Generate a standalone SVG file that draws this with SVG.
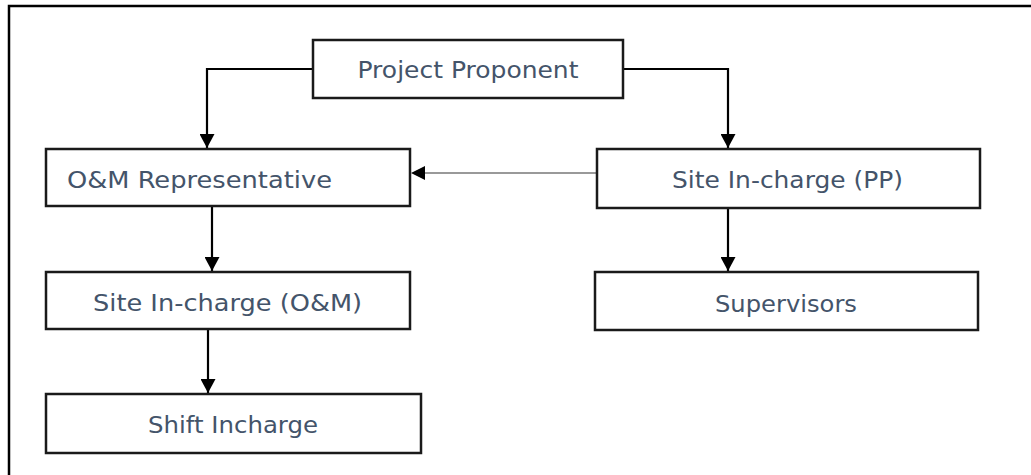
<svg xmlns="http://www.w3.org/2000/svg" width="1031" height="475" viewBox="0 0 1031 475">
<defs>
<marker id="arr" markerUnits="userSpaceOnUse" markerWidth="15" markerHeight="15" viewBox="0 0 15 15" refX="14" refY="7.5" orient="auto">
<path d="M0,0 L14,7.5 L0,15 Z" fill="#000"/>
</marker>
<style>
.box{fill:#fff;stroke:#1a1a1a;stroke-width:2.5}
.lbl{font-family:"DejaVu Sans","Liberation Sans",sans-serif;font-size:23px;fill:#44546A;text-anchor:middle}
.con{fill:none;stroke:#000;stroke-width:2.2}
.thin{fill:none;stroke:#777;stroke-width:1.5}
</style>
</defs>
<rect width="1031" height="475" fill="#fff"/>
<path d="M9,475 V6 H1031" fill="none" stroke="#000" stroke-width="2.5"/>
<g id="connectors">
<path class="con" d="M313,69 H207 V148" marker-end="url(#arr)"/>
<path class="con" d="M623,69 H728 V148" marker-end="url(#arr)"/>
<path class="thin" d="M597,173 H424"/>
<path d="M411,173 L425,166 L425,180 Z" fill="#000"/>
<path class="con" d="M212,206 V271" marker-end="url(#arr)"/>
<path class="con" d="M728,208 V271" marker-end="url(#arr)"/>
<path class="con" d="M208,329 V393" marker-end="url(#arr)"/>
</g>
<g id="project-proponent">
<rect class="box" x="313" y="40" width="310" height="58"/>
<text class="lbl" x="468" y="77.5" textLength="221" lengthAdjust="spacingAndGlyphs">Project Proponent</text>
</g>
<g id="om-representative">
<rect class="box" x="46" y="149" width="364" height="57"/>
<text class="lbl" x="199.5" y="187.5" textLength="265" lengthAdjust="spacingAndGlyphs">O&amp;M Representative</text>
</g>
<g id="site-incharge-pp">
<rect class="box" x="597" y="149" width="383" height="59"/>
<text class="lbl" x="787.5" y="187.5" textLength="231" lengthAdjust="spacingAndGlyphs">Site In-charge (PP)</text>
</g>
<g id="site-incharge-om">
<rect class="box" x="46" y="272" width="364" height="57"/>
<text class="lbl" x="227.5" y="310.5" textLength="269" lengthAdjust="spacingAndGlyphs">Site In-charge (O&amp;M)</text>
</g>
<g id="supervisors">
<rect class="box" x="595" y="272" width="383" height="58"/>
<text class="lbl" x="786" y="311.5" textLength="142" lengthAdjust="spacingAndGlyphs">Supervisors</text>
</g>
<g id="shift-incharge">
<rect class="box" x="46" y="394" width="375" height="59"/>
<text class="lbl" x="233" y="432.5" textLength="170" lengthAdjust="spacingAndGlyphs">Shift Incharge</text>
</g>
</svg>
